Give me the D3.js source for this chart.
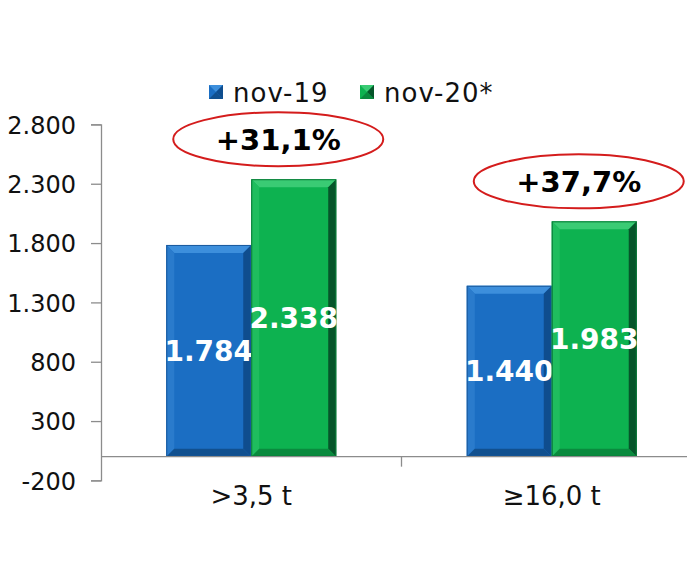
<!DOCTYPE html>
<html>
<head>
<meta charset="utf-8">
<script src="https://cdn.jsdelivr.net/npm/d3@7"></script>
<style>
  html, body { margin: 0; padding: 0; background: #fff; }
  svg { display: block; }
  text { font-family: Verdana, "DejaVu Sans", sans-serif; }
</style>
</head>
<body>
<script>
// ---- data ----
const categories = [">3,5 t", "≥16,0 t"];
const seriesNames = ["nov-19", "nov-20*"];
const nov19 = [1784, 1440];
const nov20 = [2338, 1983];
const pctLabels = ["+31,1%", "+37,7%"];
const yTicks = [-200, 300, 800, 1300, 1800, 2300, 2800];

// ---- setup ----
const W = 687, H = 577;
const svg = d3.select("body").append("svg").attr("width", W).attr("height", H);

const locale = d3.formatLocale({ decimal: ",", thousands: ".", grouping: [3], currency: ["", ""], minus: "-" });
const fmt = locale.format(",d");

const y = d3.scaleLinear().domain([-200, 2800]).range([480.4, 124.4]);
const x0 = d3.scaleBand().domain(categories).range([101, 702]).paddingInner(0).paddingOuter(0);
const x1 = d3.scaleBand().domain(seriesNames).range([0, x0.bandwidth()]).paddingInner(0).paddingOuter(0.768);

const styles = {
  "nov-19": { face: "#1b6ec3", top: "#3d8fdc", left: "#2a7bcc", right: "#0f4d8e", bottom: "#11508f", edge: "#1a5a9e" },
  "nov-20*": { face: "#0db250", top: "#3acb74", left: "#1fbd5e", right: "#06552a", bottom: "#0a8a3e", edge: "#0a7a38" }
};

// ---- y axis ----
const yAxis = d3.axisLeft(y).tickValues(yTicks).tickFormat(fmt).tickSize(10).tickPadding(15);
const gy = svg.append("g").attr("transform", "translate(101,0)").call(yAxis);
gy.select(".domain").attr("stroke", "#8c8c8c").attr("stroke-width", 1.3);
gy.selectAll(".tick line").attr("stroke", "#8c8c8c").attr("stroke-width", 1.3);
gy.selectAll(".tick text").attr("font-size", 24).attr("fill", "#111")
  .attr("font-family", "Verdana, 'DejaVu Sans', sans-serif").attr("dy", "0.36em");

// ---- bars ----
const data = [];
categories.forEach((c, i) => {
  data.push({ cat: c, ser: seriesNames[0], v: nov19[i] });
  data.push({ cat: c, ser: seriesNames[1], v: nov20[i] });
});

const b = 8;
const bars = svg.append("g");
data.forEach(d => {
  const st = styles[d.ser];
  const xl = x0(d.cat) + x1(d.ser);
  const w = x1.bandwidth();
  const xr = xl + w;
  const yt = y(d.v), yb = y(0);
  const g = bars.append("g");
  g.append("rect").attr("x", xl).attr("y", yt).attr("width", w).attr("height", yb - yt).attr("fill", st.face);
  const poly = (pts, fill) => g.append("polygon").attr("points", pts.map(p => p.join(",")).join(" ")).attr("fill", fill);
  poly([[xl, yt], [xr, yt], [xr - b, yt + b], [xl + b, yt + b]], st.top);
  poly([[xl, yt], [xl + b, yt + b], [xl + b, yb - b], [xl, yb]], st.left);
  poly([[xr, yt], [xr, yb], [xr - b, yb - b], [xr - b, yt + b]], st.right);
  poly([[xl, yb], [xl + b, yb - b], [xr - b, yb - b], [xr, yb]], st.bottom);
  g.append("rect").attr("x", xl + 0.5).attr("y", yt + 0.5).attr("width", w - 1).attr("height", yb - yt - 1)
    .attr("fill", "none").attr("stroke", st.edge).attr("stroke-width", 1);
  // value label
  g.append("text").attr("x", xl + w / 2).attr("y", (yt + yb) / 2).attr("dy", "0.36em")
    .attr("text-anchor", "middle").attr("fill", "#fff").attr("font-weight", "bold").attr("font-size", 28)
    .text(fmt(d.v));
});

// ---- x axis ----
const gx = svg.append("g");
gx.append("line").attr("x1", 101).attr("x2", 702).attr("y1", y(0)).attr("y2", y(0))
  .attr("stroke", "#8c8c8c").attr("stroke-width", 1.3);
categories.slice(1).forEach(c => {
  gx.append("line").attr("x1", x0(c)).attr("x2", x0(c)).attr("y1", y(0)).attr("y2", y(0) + 10)
    .attr("stroke", "#8c8c8c").attr("stroke-width", 1.3);
});
categories.forEach(c => {
  gx.append("text").attr("x", x0(c) + x0.bandwidth() / 2).attr("y", 505)
    .attr("text-anchor", "middle").attr("font-size", 26).attr("fill", "#111").text(c);
});

// ---- percent annotations ----
categories.forEach((c, i) => {
  const cx = x0(c) + x0.bandwidth() / 2 + 27;
  const cy = y(nov20[i]) - 40;
  svg.append("ellipse").attr("cx", cx).attr("cy", cy).attr("rx", 105).attr("ry", 27)
    .attr("fill", "none").attr("stroke", "#d41c1c").attr("stroke-width", 2);
  svg.append("text").attr("x", cx).attr("y", cy).attr("dy", "0.36em").attr("text-anchor", "middle")
    .attr("font-weight", "bold").attr("font-size", 29).attr("fill", "#000").text(pctLabels[i]);
});

// ---- legend ----
const legX = [209, 360];
seriesNames.forEach((s, i) => {
  const st = styles[s];
  const lx = legX[i], ly = 85, sz = 14;
  svg.append("rect").attr("x", lx).attr("y", ly).attr("width", sz).attr("height", sz).attr("fill", st.face);
  svg.append("polygon").attr("points", `${lx},${ly} ${lx + sz},${ly} ${lx + sz / 2},${ly + sz / 2}`).attr("fill", st.top);
  svg.append("polygon").attr("points", `${lx + sz},${ly} ${lx + sz},${ly + sz} ${lx + sz / 2},${ly + sz / 2}`).attr("fill", st.right);
  svg.append("polygon").attr("points", `${lx},${ly + sz} ${lx + sz},${ly + sz} ${lx + sz / 2},${ly + sz / 2}`).attr("fill", st.bottom);
  svg.append("text").attr("x", lx + sz + 10).attr("y", 102).attr("font-size", 26)
    .attr("letter-spacing", "1px").attr("fill", "#111").text(s);
});
</script>
</body>
</html>
